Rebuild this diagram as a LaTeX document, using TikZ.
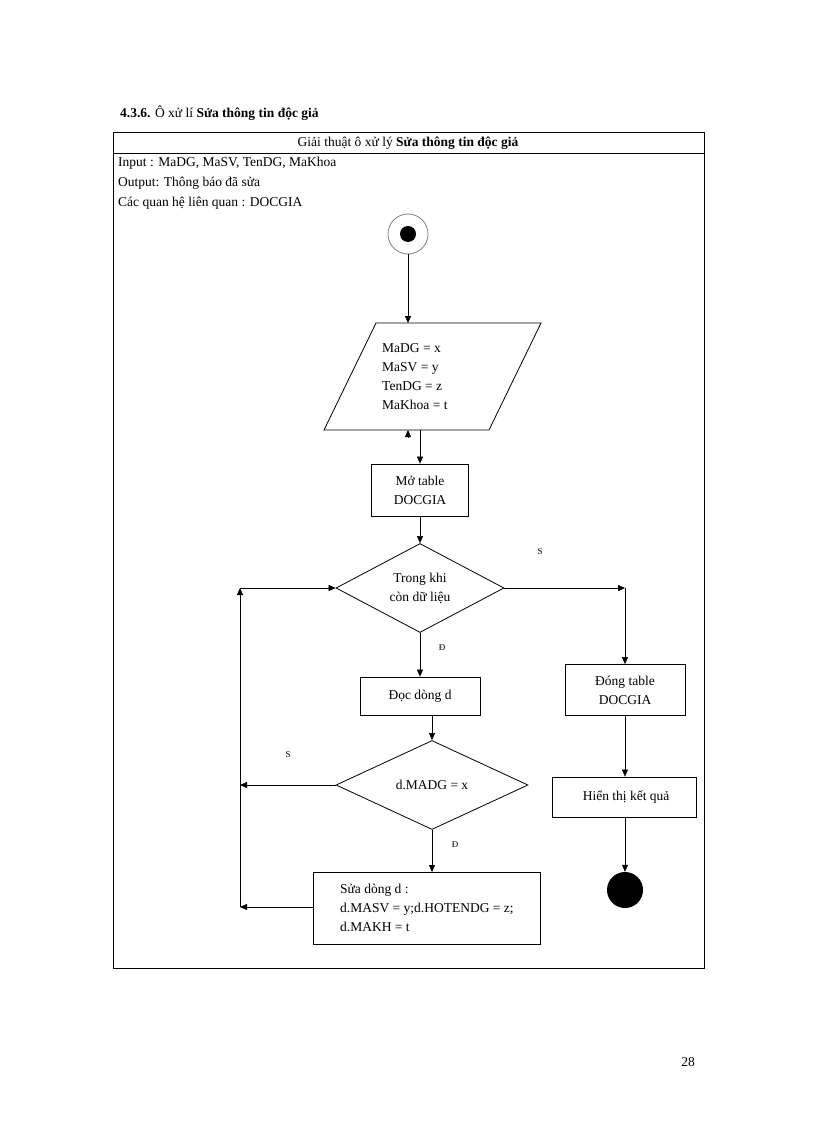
\documentclass[tikz,border=0pt]{standalone}
\usepackage{fontspec}
\setmainfont{Liberation Serif}
\usetikzlibrary{shapes.geometric,arrows.meta}
\begin{document}
\begin{tikzpicture}[x=1pt,y=-1pt,
  txt/.style={font=\fontsize{13.5}{19}\selectfont,inner sep=0},
  box/.style={draw,thick,font=\fontsize{13.5}{19}\selectfont,align=center,inner sep=0},
  arr/.style={-{Triangle[length=7pt,width=6pt]}},
  lbl/.style={font=\fontsize{9}{10}\selectfont,inner sep=0}]
\useasboundingbox (0,0) rectangle (816,1123);
\node[txt,anchor=west] (title) at (120,113) {\textbf{4.3.6.} Ô xử lí \textbf{Sửa thông tin độc giả}};
\draw[thick] (113,132) rectangle (704,968);
\draw[thick] (113,153) -- (704,153);
\node[txt] (hdr) at (408,143) {Giải thuật ô xử lý \textbf{Sửa thông tin độc giả}};
\node[txt,anchor=west] (in) at (118,163) {Input : MaDG, MaSV, TenDG, MaKhoa};
\node[txt,anchor=west] (out) at (118,183) {Output: Thông báo đã sửa};
\node[txt,anchor=west] (rel) at (118,203) {Các quan hệ liên quan : DOCGIA};
% start
\node[circle,draw=gray,thick,minimum size=40pt,inner sep=0] (start) at (408,234) {};
\node[circle,fill=black,minimum size=16pt,inner sep=0] (startin) at (408,234) {};
% parallelogram
\draw[thick] (376,323) -- (541,323) -- (489,430) -- (324,430) -- cycle;
\coordinate (pt) at (408,323);
\coordinate (pb) at (420,430);
\coordinate (pb2) at (408,430);
\coordinate (pb3) at (408,437);
\node[txt,align=left,anchor=west] (ptext) at (382,377) {MaDG = x\\MaSV = y\\TenDG = z\\MaKhoa = t};
\draw[arr] (start) -- (pt);
\draw[arr] (pb3) -- (pb2);
% boxes
\node[box,minimum width=97pt,minimum height=52pt] (mo) at (420,490) {Mở table\\DOCGIA};
\draw[arr] (pb) -- (mo);
\node[draw,thick,diamond,aspect=1.9,minimum width=168pt,minimum height=89pt,inner sep=0,font=\fontsize{13.5}{19}\selectfont,align=center] (d1) at (420,588) {Trong khi\\còn dữ liệu};
\draw[arr] (mo) -- (d1);
\node[box,minimum width=120pt,minimum height=38pt] (doc) at (420,696) {Đọc dòng d};
\draw[arr] (d1) -- (doc);
\node[draw,thick,diamond,aspect=2.15,minimum width=192pt,minimum height=89pt,inner sep=0,font=\fontsize{13.5}{19}\selectfont] (d2) at (432,785) {d.MADG = x};
\coordinate (docb) at (432,715);
\draw[arr] (docb) -- (d2.north);
\node[box,minimum width=227pt,minimum height=72pt,align=left,anchor=west] (sua) at (313,908) {Sửa dòng d :\\d.MASV = y;d.HOTENDG = z;\\d.MAKH = t};
\coordinate (suat) at (432,872);
\draw[arr] (d2.south) -- (suat);
\coordinate (l1) at (240,785);
\coordinate (l2) at (240,907);
\coordinate (l3) at (240,588);
\draw[arr] (d2.west) -- (l1);
\draw[arr] (sua.west |- l2) -- (l2);
\draw[arr] (l2) -- (l3);
\draw[arr] (l3) -- (d1.west);
% right branch
\node[box,minimum width=120pt,minimum height=51pt] (dong) at (625,690) {Đóng table\\DOCGIA};
\coordinate (r1) at (625,588);
\draw[arr] (d1.east) -- (r1);
\draw[arr] (r1) -- (dong);
\node[box,minimum width=144pt,minimum height=40pt,align=left,anchor=west] (hien) at (552,797) {\ Hiển thị kết quả};
\draw[arr] (dong) -- (hien.north -| dong);
\node[circle,fill=black,minimum size=36pt,inner sep=0] (end) at (625,890) {};
\draw[arr] (hien.south -| dong) -- (end);
% labels
\node[lbl] (s1) at (540,552) {S};
\node[lbl] (dd1) at (442,648) {Đ};
\node[lbl] (s2) at (288,755) {S};
\node[lbl] (dd2) at (455,845) {Đ};
\node[txt] (page) at (688,1062) {28};
\end{tikzpicture}
\end{document}
